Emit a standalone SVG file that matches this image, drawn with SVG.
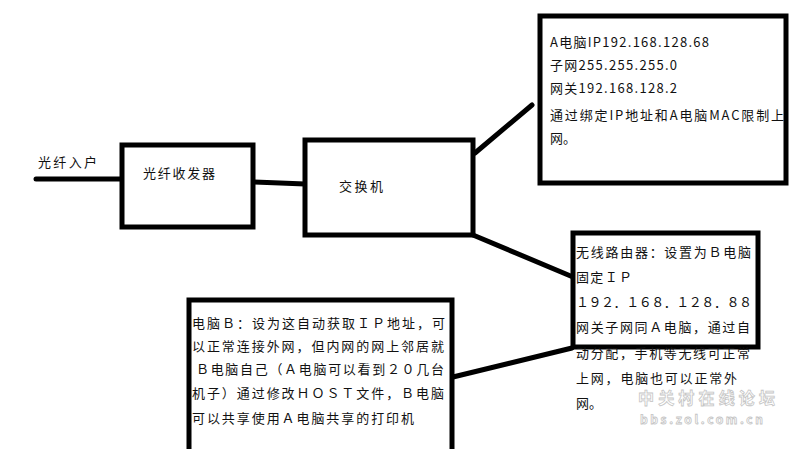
<svg xmlns="http://www.w3.org/2000/svg" width="800" height="449" viewBox="0 0 800 449">
<style>
.box{fill:#fff;stroke:#000;stroke-width:5}
.ln{fill:none;stroke:#000;stroke-width:5;stroke-linecap:round}
.t{font-family:"Microsoft YaHei","Noto Sans CJK SC",sans-serif;font-size:13px;fill:#111}
.w{font-family:"Noto Sans CJK SC",sans-serif;font-weight:bold;fill:#fff;stroke:#bbb;stroke-width:0.8;opacity:0.85}
</style>
<rect width="800" height="449" fill="#fff"/>
<g id="connectors">
<line class="ln" x1="36" y1="179" x2="122" y2="179"/>
<polyline class="ln" points="253,182 280,183 305,184"/>
<line class="ln" x1="475" y1="153" x2="532" y2="105"/>
<line class="ln" x1="473" y1="235" x2="573" y2="277"/>
<line class="ln" x1="453" y1="377" x2="572" y2="348"/>
</g>
<g id="fiber-in">
<text class="t" x="38" y="167" textLength="59">光纤入户</text>
</g>
<g id="fiber-transceiver">
<rect class="box" x="122" y="145" width="131" height="82"/>
<text class="t" x="143" y="178" textLength="72">光纤收发器</text>
</g>
<g id="switch">
<rect class="box" x="305" y="140" width="168" height="95"/>
<text class="t" x="339" y="191" textLength="44">交换机</text>
</g>
<g id="pc-a">
<rect class="box" x="540" y="16" width="246" height="167"/>
<text class="t" x="550" y="47" textLength="159">A电脑IP192.168.128.68</text>
<text class="t" x="550" y="70" textLength="127">子网255.255.255.0</text>
<text class="t" x="550" y="93" textLength="127">网关192.168.128.2</text>
<text class="t" x="550" y="120" textLength="234">通过绑定IP地址和A电脑MAC限制上</text>
<text class="t" x="550" y="143">网。</text>
</g>
<g id="wireless-router">
<rect class="box" x="573" y="233" width="185" height="114"/>
<text class="t" x="576" y="257" textLength="175">无线路由器：设置为Ｂ电脑</text>
<text class="t" x="576" y="282" textLength="56">固定ＩＰ</text>
<text class="t" x="576" y="307" textLength="176">１９２．１６８．１２８．８８</text>
<text class="t" x="576" y="332" textLength="174">网关子网同Ａ电脑，通过自</text>
<text class="t" x="576" y="358" textLength="174">动分配，手机等无线可正常</text>
<text class="t" x="576" y="383" textLength="161">上网，电脑也可以正常外</text>
<text class="t" x="576" y="408">网。</text>
</g>
<g id="pc-b">
<rect class="box" x="189" y="300" width="263" height="160"/>
<text class="t" x="192" y="328" textLength="253">电脑Ｂ：设为这自动获取ＩＰ地址，可</text>
<text class="t" x="192" y="351" textLength="252">以正常连接外网，但内网的网上邻居就</text>
<text class="t" x="196" y="374" textLength="248">Ｂ电脑自己（Ａ电脑可以看到２０几台</text>
<text class="t" x="192" y="398" textLength="252">机子）通过修改ＨＯＳＴ文件，Ｂ电脑</text>
<text class="t" x="192" y="423" textLength="222">可以共享使用Ａ电脑共享的打印机</text>
</g>
<g id="watermark">
<text class="w" x="638" y="404" font-size="16" textLength="137">中关村在线论坛</text>
<text class="w" x="640" y="424" font-size="12" textLength="123">bbs.zol.com.cn</text>
</g>
</svg>
